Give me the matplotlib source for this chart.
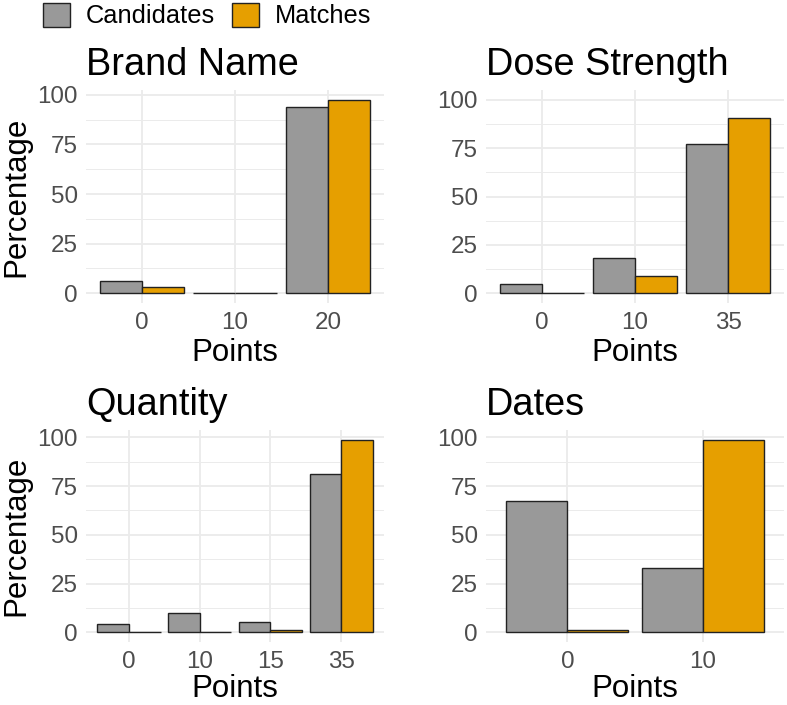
import matplotlib
matplotlib.use("Agg")
import matplotlib.pyplot as plt
from matplotlib.patches import Patch
from matplotlib.ticker import MultipleLocator
import numpy as np

plt.rcParams['font.family'] = ['Liberation Sans', 'DejaVu Sans']

titles = ["Brand Name", "Dose Strength", "Quantity", "Dates"]
points = [["0", "10", "20"], ["0", "10", "35"], ["0", "10", "15", "35"], ["0", "10"]]
candidates = [[6.3, 0.0, 93.8], [4.8, 18.2, 77.0], [4.4, 9.9, 5.1, 81.3], [67.2, 32.8]]
matches = [[3.0, 0.0, 97.5], [0.0, 8.9, 90.7], [0.0, 0.0, 1.4, 98.8], [1.0, 98.8]]
y_top = [97.5, 100.0, 98.8, 98.8]

GRAY = "#999999"
ORANGE = "#E69F00"
EDGE = "#222222"
GRID = "#EBEBEB"
TICK = "#4D4D4D"

fig = plt.figure(figsize=(7.87, 7.05), dpi=100)
W, H = 787, 705
boxes = [(86, 90, 384, 303), (486, 90, 784, 303), (86, 430, 384, 642), (486, 430, 784, 642)]

for i in range(4):
    x0, y0, x1, y1 = boxes[i]
    ax = fig.add_axes([x0 / W, 1 - y1 / H, (x1 - x0) / W, (y1 - y0) / H])
    n = len(points[i])
    x = np.arange(n)
    w = 0.45
    ax.bar(x - w / 2, candidates[i], width=w, color=GRAY, edgecolor=EDGE, linewidth=1.0, zorder=3)
    ax.bar(x + w / 2, matches[i], width=w, color=ORANGE, edgecolor=EDGE, linewidth=1.0, zorder=3)
    ax.set_xlim(-0.6, n - 1 + 0.6)
    yt = y_top[i]
    ax.set_ylim(-0.05 * yt, 1.05 * yt)
    ax.set_xticks(x)
    ax.set_xticklabels(points[i])
    ax.yaxis.set_major_locator(MultipleLocator(25))
    ax.yaxis.set_minor_locator(MultipleLocator(12.5))
    ax.grid(which='major', axis='both', color=GRID, linewidth=1.3, zorder=0)
    ax.grid(which='minor', axis='y', color=GRID, linewidth=0.7, zorder=0)
    for s in ax.spines.values():
        s.set_visible(False)
    ax.tick_params(which='both', length=0)
    ax.tick_params(axis='y', labelsize=17.4, labelcolor=TICK, pad=6)
    ax.tick_params(axis='x', labelsize=17.4, labelcolor=TICK, pad=6.5)
    ax.set_title(titles[i], loc='left', fontsize=27.3, pad=11, color='black')
    ax.set_xlabel("Points", fontsize=22.5, labelpad=3 if i < 2 else 0.5)
    if i % 2 == 0:
        ax.set_ylabel("Percentage", fontsize=22.5, labelpad=4)

handles = [Patch(facecolor=GRAY, edgecolor=EDGE, linewidth=1.0, label="Candidates"),
           Patch(facecolor=ORANGE, edgecolor=EDGE, linewidth=1.0, label="Matches")]
fig.legend(handles=handles, loc='upper left', bbox_to_anchor=(43 / W, 1 - 3 / H),
           ncol=2, frameon=False, fontsize=18.3, borderpad=0, borderaxespad=0,
           handlelength=1.05, handleheight=1.05, handletextpad=0.62, columnspacing=0.7)

fig.savefig("out.png", dpi=100)
